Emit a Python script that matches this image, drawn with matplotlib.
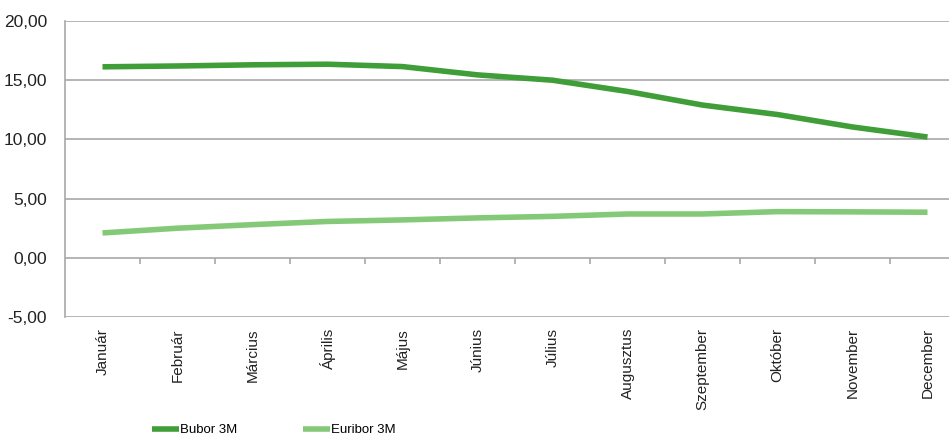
import matplotlib.pyplot as plt
import numpy as np
from matplotlib.ticker import FuncFormatter

plt.rcParams['font.family'] = ['Liberation Sans', 'DejaVu Sans']

months = ["Január", "Február", "Március", "Április", "Május", "Június",
          "Július", "Augusztus", "Szeptember", "Október", "November", "December"]
bubor = [16.13, 16.2, 16.3, 16.35, 16.15, 15.45, 15.0, 14.05, 12.9, 12.1, 11.05, 10.2]
euribor = [2.1, 2.5, 2.8, 3.07, 3.2, 3.37, 3.5, 3.7, 3.7, 3.9, 3.88, 3.85]
y_ticks = [-5, 0, 5, 10, 15, 20]

fig = plt.figure(figsize=(9.49, 4.36), dpi=100)
ax = fig.add_axes([65 / 949, 1 - 317 / 436, 900 / 949, 296 / 436])

x = np.arange(len(months))
ax.plot(x, bubor, color="#3f9e37", lw=4, solid_capstyle="butt", label="Bubor 3M")
ax.plot(x, euribor, color="#84c977", lw=4, solid_capstyle="butt", label="Euribor 3M")

ax.set_xlim(-0.5, len(months) - 0.5)
ax.set_ylim(-5, 20)
ax.set_yticks(y_ticks)
ax.yaxis.set_major_formatter(FuncFormatter(lambda v, p: f"{v:.2f}".replace(".", ",")))
ax.grid(axis="y", color="#a8a8a8", lw=1.2)
ax.set_axisbelow(True)

for s in ["top", "right", "bottom"]:
    ax.spines[s].set_visible(False)
ax.spines["left"].set_color("#a8a8a8")
ax.spines["left"].set_linewidth(1.2)

ax.set_xticks(x)
ax.set_xticklabels(months, rotation=90, fontsize=11, color="#222222")
ax.tick_params(axis="x", length=0, pad=8)
ax.tick_params(axis="y", length=0, pad=13, labelsize=12.5, labelcolor="#222222")

# category separators on the zero line
sec = ax.secondary_xaxis(0.2)
sec.set_xticks(x[:-1] + 0.5)
sec.set_xticklabels([])
sec.tick_params(axis="x", direction="out", length=4, color="#a8a8a8", width=1.2)
sec.spines["bottom"].set_visible(False)

fig.legend(loc="center left", bbox_to_anchor=(152 / 949, 1 - 430 / 436), ncol=2,
           frameon=False, handlelength=2.05, handletextpad=0.05, columnspacing=5.0,
           fontsize=9.5, borderaxespad=0, borderpad=0)

fig.savefig("out.png", dpi=100)
